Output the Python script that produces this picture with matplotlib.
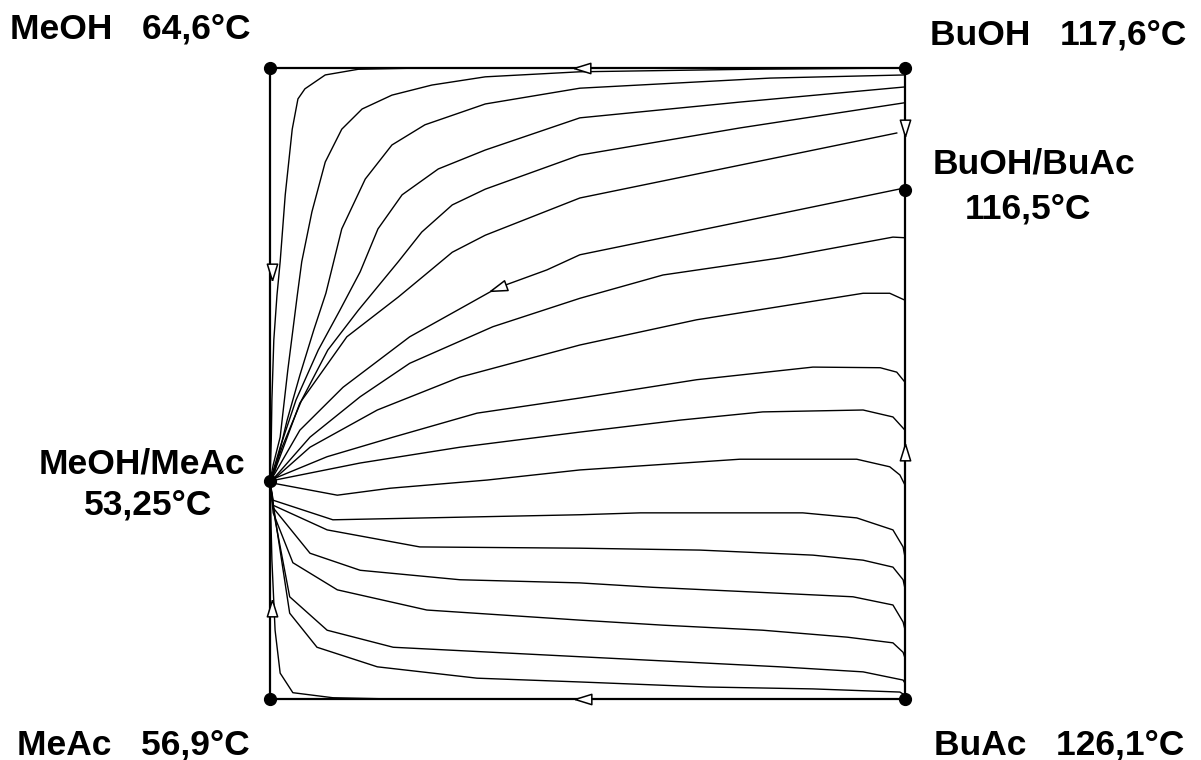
import matplotlib
matplotlib.use("Agg")
from matplotlib import pyplot as plt
from matplotlib.markers import MarkerStyle
from matplotlib.transforms import Affine2D

# residue curve map MeOH / MeAc / BuOH / BuAc (composition square, 0..1 on both axes)
# x : 0 = methyl side (left), 1 = butyl side (right)
# y : 0 = acetate side (bottom), 1 = alcohol side (top)

corner_x = [0.0, 1.0, 0.0, 1.0]
corner_y = [1.0, 1.0, 0.0, 0.0]
azeo_x = [0.0, 1.0]
azeo_y = [0.345, 0.807]

# each curve runs from the MeOH/MeAc azeotrope to the right side
curves_x = [
    [0.0, 0.002, 0.003, 0.006, 0.011, 0.016, 0.024, 0.035, 0.044, 0.055, 0.087, 0.139, 0.239, 1.0],
    [0.0, 0.005, 0.016, 0.028, 0.043, 0.050, 0.066, 0.087, 0.113, 0.145, 0.192, 0.255, 0.339, 0.488, 0.756, 1.0],
    [0.0, 0.008, 0.027, 0.047, 0.069, 0.088, 0.113, 0.150, 0.192, 0.244, 0.339, 0.488, 0.787, 1.0],
    [0.0, 0.016, 0.041, 0.076, 0.110, 0.142, 0.170, 0.208, 0.265, 0.339, 0.488, 0.740, 1.0],
    [0.0, 0.019, 0.050, 0.091, 0.139, 0.202, 0.239, 0.287, 0.339, 0.488, 0.740, 1.0],
    [0.0, 0.008, 0.047, 0.121, 0.202, 0.244, 0.287, 0.339, 0.488, 0.740, 0.987],
    [0.0, 0.008, 0.047, 0.115, 0.220, 0.318, 0.357, 0.436, 0.488, 0.740, 1.0],
    [0.0, 0.008, 0.063, 0.142, 0.220, 0.351, 0.488, 0.619, 0.803, 0.981, 1.0],
    [0.0, 0.008, 0.063, 0.169, 0.299, 0.488, 0.672, 0.934, 0.976, 1.0],
    [0.0, 0.008, 0.090, 0.194, 0.326, 0.488, 0.672, 0.855, 0.961, 0.987, 1.0],
    [0.0, 0.008, 0.142, 0.299, 0.488, 0.646, 0.776, 0.934, 0.981, 1.0],
    [0.0, 0.005, 0.106, 0.189, 0.342, 0.488, 0.740, 0.924, 0.976, 0.992, 1.0],
    [0.0, 0.005, 0.099, 0.488, 0.583, 0.839, 0.924, 0.981, 0.997, 1.0],
    [0.0, 0.005, 0.090, 0.236, 0.488, 0.677, 0.855, 0.934, 0.981, 0.997, 1.0],
    [0.0, 0.005, 0.063, 0.142, 0.299, 0.488, 0.603, 0.751, 0.918, 0.981, 0.997, 1.0],
    [0.0, 0.005, 0.036, 0.106, 0.247, 0.488, 0.619, 0.776, 0.909, 0.981, 0.997, 1.0],
    [0.0, 0.008, 0.031, 0.090, 0.194, 0.488, 0.646, 0.803, 0.934, 0.997, 1.0],
    [0.0, 0.011, 0.031, 0.074, 0.169, 0.326, 0.488, 0.688, 0.855, 0.992, 1.0],
    [0.0, 0.003, 0.008, 0.016, 0.036, 0.099, 0.194, 1.0],
]
curves_y = [
    [0.345, 0.410, 0.474, 0.569, 0.640, 0.693, 0.799, 0.903, 0.951, 0.967, 0.989, 0.998, 1.0, 1.0],
    [0.345, 0.371, 0.415, 0.521, 0.640, 0.693, 0.772, 0.851, 0.903, 0.935, 0.957, 0.973, 0.986, 0.994, 0.998, 1.0],
    [0.345, 0.363, 0.442, 0.513, 0.585, 0.643, 0.745, 0.824, 0.878, 0.910, 0.943, 0.968, 0.984, 0.989],
    [0.345, 0.399, 0.474, 0.553, 0.616, 0.677, 0.745, 0.799, 0.840, 0.870, 0.921, 0.946, 0.970],
    [0.345, 0.399, 0.474, 0.553, 0.616, 0.693, 0.740, 0.783, 0.808, 0.862, 0.905, 0.945],
    [0.345, 0.363, 0.469, 0.574, 0.637, 0.672, 0.708, 0.735, 0.794, 0.846, 0.897],
    [0.345, 0.358, 0.426, 0.494, 0.574, 0.629, 0.651, 0.680, 0.704, 0.756, 0.810],
    [0.345, 0.352, 0.415, 0.479, 0.532, 0.590, 0.635, 0.672, 0.699, 0.732, 0.731],
    [0.345, 0.350, 0.399, 0.458, 0.510, 0.561, 0.601, 0.643, 0.643, 0.632],
    [0.345, 0.350, 0.384, 0.415, 0.453, 0.477, 0.506, 0.526, 0.525, 0.518, 0.502],
    [0.345, 0.347, 0.374, 0.399, 0.423, 0.442, 0.455, 0.458, 0.447, 0.426],
    [0.345, 0.342, 0.323, 0.334, 0.347, 0.363, 0.380, 0.380, 0.368, 0.355, 0.339],
    [0.345, 0.315, 0.284, 0.292, 0.295, 0.295, 0.287, 0.268, 0.241, 0.225],
    [0.345, 0.307, 0.268, 0.241, 0.239, 0.236, 0.228, 0.220, 0.209, 0.189, 0.175],
    [0.345, 0.303, 0.231, 0.204, 0.189, 0.184, 0.177, 0.170, 0.162, 0.149, 0.122, 0.110],
    [0.345, 0.295, 0.216, 0.173, 0.141, 0.125, 0.117, 0.109, 0.098, 0.089, 0.074, 0.065],
    [0.345, 0.284, 0.162, 0.109, 0.082, 0.067, 0.059, 0.051, 0.043, 0.030, 0.025],
    [0.345, 0.268, 0.136, 0.082, 0.051, 0.033, 0.027, 0.019, 0.016, 0.011, 0.006],
    [0.345, 0.22, 0.109, 0.041, 0.010, 0.002, 0.0, 0.0],
]

# direction arrows on the edges and on the separating curve (x, y, angle of a left pointing head)
arrow_x = [0.491, 0.493, 0.003, 0.003, 1.0, 1.0, 0.359]
arrow_y = [1.0, 0.0, 0.677, 0.144, 0.905, 0.391, 0.651]
arrow_ang = [0, 0, 90, -90, 90, -90, 20]

labels = ["MeOH   64,6°C", "BuOH   117,6°C", "BuOH/BuAc", "116,5°C",
          "MeOH/MeAc", "53,25°C", "MeAc   56,9°C", "BuAc   126,1°C"]

W, H = 1201, 760
fig = plt.figure(figsize=(W / 100, H / 100), dpi=100)
fig.patch.set_facecolor("white")
ax = fig.add_axes([270 / W, 61 / H, 635 / W, 631 / H])
ax.set_xlim(0, 1)
ax.set_ylim(0, 1)
ax.axis("off")

for xs, ys in zip(curves_x, curves_y):
    ax.plot(xs, ys, color="black", lw=1.0, clip_on=False, zorder=2)

# square border
ax.plot([0, 1, 1, 0, 0], [0, 0, 1, 1, 0], color="black", lw=1.6, clip_on=False, zorder=3)

head = [(-1, 0), (1, 0.62), (1, -0.62), (-1, 0)]
for xa, ya, ang in zip(arrow_x, arrow_y, arrow_ang):
    m = MarkerStyle(head, transform=Affine2D().rotate_deg(ang))
    ax.plot([xa], [ya], marker=m, ms=12, mfc="white", mec="black", mew=1.1,
            ls="none", clip_on=False, zorder=4)

ax.plot(corner_x, corner_y, "o", color="black", ms=8.5, clip_on=False, zorder=5)
ax.plot(azeo_x, azeo_y, "o", color="black", ms=8.5, clip_on=False, zorder=5)

font = dict(family=["Liberation Sans", "DejaVu Sans"], fontsize=25.5, fontweight="bold", color="black")
fig.text(10 / W, 1 - 38 / H, labels[0], ha="left", va="baseline", **font)
fig.text(930 / W, 1 - 45 / H, labels[1], ha="left", va="baseline", **font)
fig.text(1034 / W, 1 - 173 / H, labels[2], ha="center", va="baseline", **font)
fig.text(1028 / W, 1 - 218 / H, labels[3], ha="center", va="baseline", **font)
fig.text(142 / W, 1 - 473 / H, labels[4], ha="center", va="baseline", **font)
fig.text(148 / W, 1 - 514 / H, labels[5], ha="center", va="baseline", **font)
fig.text(17 / W, 1 - 755 / H, labels[6], ha="left", va="baseline", **font)
fig.text(934 / W, 1 - 755 / H, labels[7], ha="left", va="baseline", **font)

fig.savefig("out.png", dpi=100, facecolor="white")
